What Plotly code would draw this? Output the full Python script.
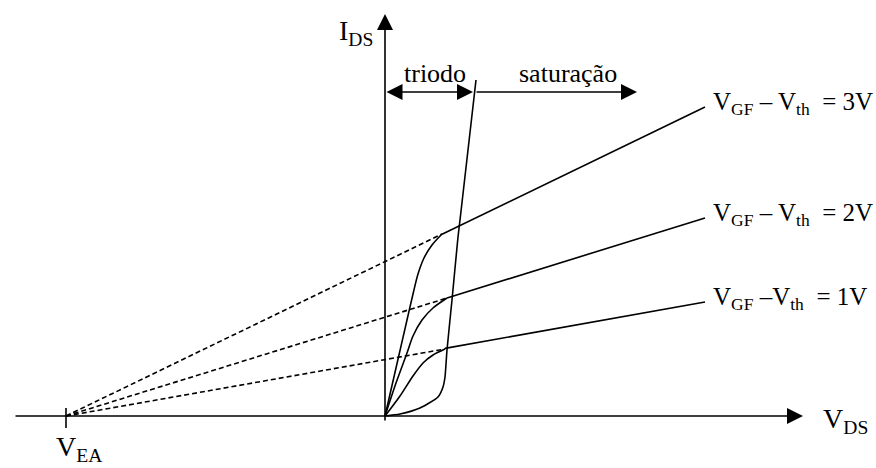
import plotly.graph_objects as go

# ---- schematic values (units) ----
VEA = -319                      # Early voltage (x-intercept of all saturation lines)
VDS_END = 320                   # end of saturation lines
IDS_END = [114, 198, 309]       # 1V, 2V, 3V saturation line values at VDS_END
OVERDRIVE_LABELS = ["V<sub>GF</sub> –V<sub>th</sub>\u00a0 = 1V",
                    "V<sub>GF</sub> – V<sub>th</sub>\u00a0 = 2V",
                    "V<sub>GF</sub> – V<sub>th</sub>\u00a0 = 3V"]

# triode region curves (VDS, IDS) ending at the knee
TRI_1V_VDS = [0, 15, 28, 38, 48, 60]
TRI_1V_IDS = [0, 20, 40, 53, 61, 67]
TRI_2V_VDS = [0, 11, 22, 28, 37, 48, 62]
TRI_2V_IDS = [0, 33, 63, 80, 96, 108, 118]
TRI_3V_VDS = [0, 11, 22, 28, 33, 39, 47, 57]
TRI_3V_IDS = [0, 48, 96, 122, 142, 158, 171, 182]

# triode / saturation boundary (VDS_sat locus)
LOCUS_VDS = [0, 15, 35, 53, 58, 60, 62, 67, 73, 75, 91]
LOCUS_IDS = [0, 2, 8, 19, 29, 39, 66, 116, 179, 196, 336]

# axis extents
X_MIN, X_MAX = -371, 418
Y_MIN, Y_MAX = -6, 402
REGION_Y = 324
TRIODE_END = 88
SAT_START, SAT_END = 90, 252

tri_vds = [TRI_1V_VDS, TRI_2V_VDS, TRI_3V_VDS]
tri_ids = [TRI_1V_IDS, TRI_2V_IDS, TRI_3V_IDS]

LW = 1.6
BLACK = "black"
FONT = "Liberation Serif, serif"

fig = go.Figure()

for k in range(3):
    kx, ky = tri_vds[k][-1], tri_ids[k][-1]
    # dashed extrapolation to V_EA
    fig.add_trace(go.Scatter(x=[VEA, kx], y=[0, ky], mode="lines",
                             line=dict(color=BLACK, width=LW, dash="5px,3px"),
                             hoverinfo="skip", showlegend=False))
    # triode curve
    fig.add_trace(go.Scatter(x=tri_vds[k], y=tri_ids[k], mode="lines",
                             line=dict(color=BLACK, width=LW, shape="spline", smoothing=0.8),
                             hoverinfo="skip", showlegend=False))
    # saturation line (on the line through V_EA)
    slope = IDS_END[k] / (VDS_END - VEA)
    fig.add_trace(go.Scatter(x=[kx, VDS_END], y=[slope * (kx - VEA), IDS_END[k]], mode="lines",
                             line=dict(color=BLACK, width=LW),
                             hoverinfo="skip", showlegend=False))
    fig.add_annotation(x=VDS_END + 6, y=IDS_END[k] + 4, text=OVERDRIVE_LABELS[k],
                       showarrow=False, xanchor="left", yanchor="middle",
                       font=dict(family=FONT, size=25, color=BLACK))

# locus
fig.add_trace(go.Scatter(x=LOCUS_VDS, y=LOCUS_IDS, mode="lines",
                         line=dict(color=BLACK, width=LW, shape="spline", smoothing=0.6),
                         hoverinfo="skip", showlegend=False))

# axes
def arrow(x0, y0, x1, y1, both=False):
    fig.add_annotation(x=x1, y=y1, ax=x0, ay=y0, xref="x", yref="y", axref="x", ayref="y",
                       text="", showarrow=True, arrowhead=2, arrowsize=2, arrowwidth=LW,
                       arrowcolor=BLACK, arrowside="end+start" if both else "end",
                       startarrowhead=2, startarrowsize=2)

arrow(X_MIN, 0, X_MAX, 0)
arrow(0, Y_MIN, 0, Y_MAX)
arrow(0, REGION_Y, TRIODE_END, REGION_Y, both=True)
arrow(SAT_START, REGION_Y, SAT_END, REGION_Y)

# V_EA tick
fig.add_shape(type="line", x0=VEA, x1=VEA, y0=-12, y1=8, line=dict(color=BLACK, width=LW))

texts = [
    ("I<sub>DS</sub>", -29, 384, 28),
    ("V<sub>DS</sub>", 460, -4, 28),
    ("V<sub>EA</sub>", -306, -32, 28),
    ("triodo", 49.5, 343, 26),
    ("saturação", 182.5, 343, 26),
]
for t, x, y, s in texts:
    fig.add_annotation(x=x, y=y, text=t, showarrow=False, xanchor="center", yanchor="middle",
                       font=dict(family=FONT, size=s, color=BLACK))

fig.update_layout(width=876, height=468, margin=dict(l=0, r=0, t=0, b=0),
                  plot_bgcolor="white", paper_bgcolor="white",
                  xaxis=dict(range=[-385, 491], visible=False, fixedrange=True),
                  yaxis=dict(range=[-52, 416], visible=False, fixedrange=True))

fig.write_html("out.html", config={"displayModeBar": False},
               post_script="document.body.style.margin='0px';document.body.style.overflow='hidden';")
